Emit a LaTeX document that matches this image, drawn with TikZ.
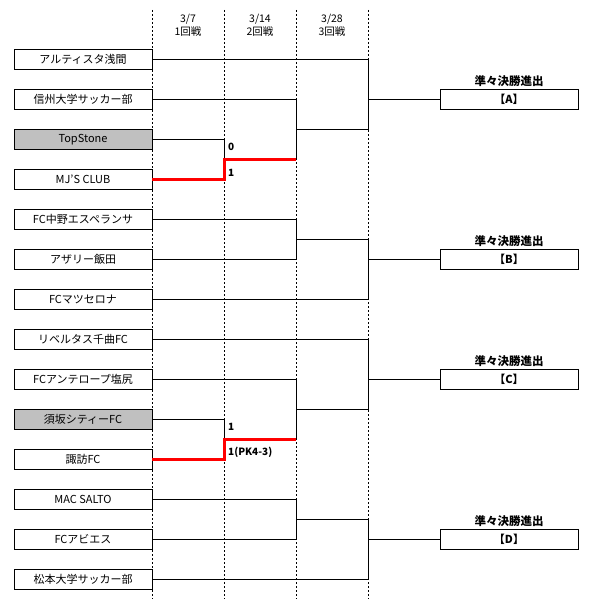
\documentclass[tikz,border=0pt]{standalone}
\usepackage{fontspec}
\setmainfont{Noto Sans CJK JP}
\definecolor{seedgray}{HTML}{C0C0C0}
\begin{document}
\begin{tikzpicture}[x=1pt,y=-1pt,
 team/.style={draw, line width=0.9pt, minimum width=138pt, minimum height=19.5pt, inner sep=0pt, fill=white, font=\fontsize{11}{11}\selectfont},
 seeded/.style={team, fill=seedgray},
 res/.style={team, font=\fontsize{11}{11}\selectfont\bfseries},
 gridline/.style={line width=0.9pt, dash pattern=on 2pt off 2pt},
 br/.style={line width=0.9pt},
 win/.style={line width=3pt, red},
 score/.style={anchor=west, inner sep=0pt, font=\fontsize{10}{10}\selectfont\bfseries},
 hdr/.style={inner sep=0pt, font=\fontsize{10.5}{10.5}\selectfont},
 qlab/.style={inner sep=0pt, font=\fontsize{11.5}{11.5}\selectfont\bfseries}
]
\useasboundingbox (0,0) rectangle (593,599);
% header
\node[hdr] (d1) at (188,19) {3/7};
\node[hdr] (r1) at (188,32) {1回戦};
\node[hdr] (d2) at (260,19) {3/14};
\node[hdr] (r2) at (260,32) {2回戦};
\node[hdr] (d3) at (332,19) {3/28};
\node[hdr] (r3) at (332,32) {3回戦};
% dashed grid
\coordinate (g1t) at (152.5,10); \coordinate (g1b) at (152.5,599);
\coordinate (g2t) at (224.5,10); \coordinate (g2b) at (224.5,599);
\coordinate (g3t) at (296.5,10); \coordinate (g3b) at (296.5,599);
\coordinate (g4t) at (368.5,10); \coordinate (g4b) at (368.5,599);
\draw[gridline] (g1t) -- (g1b);
\draw[gridline] (g2t) -- (g2b);
\draw[gridline] (g3t) -- (g3b);
\draw[gridline] (g4t) -- (g4b);
% teams
\node[team]   (t0)  at (83,59.5)  {アルティスタ浅間};
\node[team]   (t1)  at (83,99.5)  {信州大学サッカー部};
\node[seeded] (t2)  at (83,139.5) {TopStone};
\node[team]   (t3)  at (83,179.5) {MJ'S CLUB};
\node[team]   (t4)  at (83,219.5) {FC中野エスペランサ};
\node[team]   (t5)  at (83,259.5) {アザリー飯田};
\node[team]   (t6)  at (83,299.5) {FCマツセロナ};
\node[team]   (t7)  at (83,339.5) {リベルタス千曲FC};
\node[team]   (t8)  at (83,379.5) {FCアンテロープ塩尻};
\node[seeded] (t9)  at (83,419.5) {須坂シティーFC};
\node[team]   (t10) at (83,459.5) {諏訪FC};
\node[team]   (t11) at (83,499.5) {MAC SALTO};
\node[team]   (t12) at (83,539.5) {FCアビエス};
\node[team]   (t13) at (83,579.5) {松本大学サッカー部};
% results
\node[res] (rA) at (509,99.5)  {【A】};
\node[res] (rB) at (509,259.5) {【B】};
\node[res] (rC) at (509,379.5) {【C】};
\node[res] (rD) at (509,539.5) {【D】};
\node[qlab] (qA) at (509,81)  {準々決勝進出};
\node[qlab] (qB) at (509,241) {準々決勝進出};
\node[qlab] (qC) at (509,361) {準々決勝進出};
\node[qlab] (qD) at (509,521) {準々決勝進出};
% block A
\coordinate (a1) at (224,159);
\coordinate (a2) at (296,159);
\coordinate (a3) at (296,129.5);
\coordinate (a4) at (368,129.5);
\coordinate (a5) at (368,99.5);
\draw[br] (t0.east) -- (368,59.5) -- (a4) -- (a3);
\draw[br] (t1.east) -- (296,99.5) -- (a2);
\draw[br] (t2.east) -- (224,139.5) -- (a1);
\draw[win] (t3.east) -- (224,179.5) -- (a1) -- (a2);
\draw[br] (a5) -- (rA.west);
% block B
\coordinate (b1) at (296,239.5);
\coordinate (b2) at (368,259.5);
\draw[br] (t4.east) -- (296,219.5) -- (296,259.5) -- (t5.east);
\draw[br] (b1) -- (368,239.5) -- (368,299.5) -- (t6.east);
\draw[br] (b2) -- (rB.west);
% block C
\coordinate (c1) at (224,439);
\coordinate (c2) at (296,439);
\coordinate (c3) at (296,409.5);
\coordinate (c4) at (368,409.5);
\coordinate (c5) at (368,379.5);
\draw[br] (t7.east) -- (368,339.5) -- (c4) -- (c3);
\draw[br] (t8.east) -- (296,379.5) -- (c2);
\draw[br] (t9.east) -- (224,419.5) -- (c1);
\draw[win] (t10.east) -- (224,459.5) -- (c1) -- (c2);
\draw[br] (c5) -- (rC.west);
% block D
\coordinate (e1) at (296,519.5);
\coordinate (e2) at (368,539.5);
\draw[br] (t11.east) -- (296,499.5) -- (296,539.5) -- (t12.east);
\draw[br] (e1) -- (368,519.5) -- (368,579.5) -- (t13.east);
\draw[br] (e2) -- (rD.west);
% scores
\node[score] (s1) at (228,147) {0};
\node[score] (s2) at (228,172.7) {1};
\node[score] (s3) at (228,426.7) {1};
\node[score] (s4) at (228,452.7) {1(PK4-3)};
\end{tikzpicture}
\end{document}
